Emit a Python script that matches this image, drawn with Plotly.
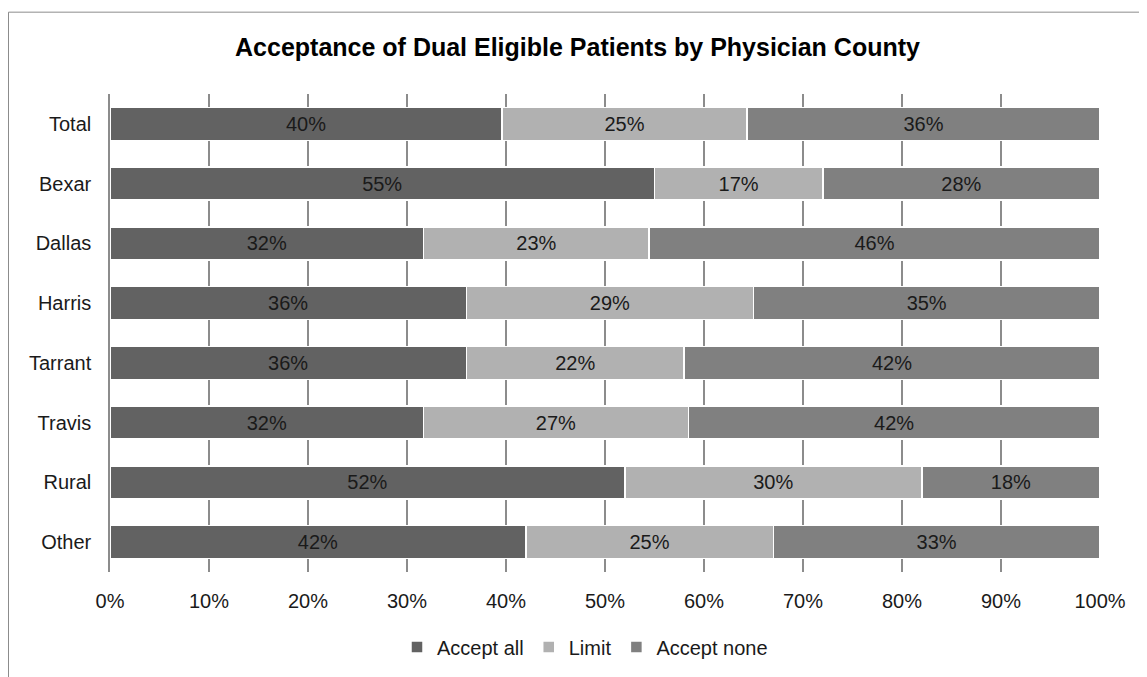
import plotly.graph_objects as go

categories = ["Total", "Bexar", "Dallas", "Harris", "Tarrant", "Travis", "Rural", "Other"]
accept_all = [40, 55, 32, 36, 36, 32, 52, 42]
limit = [25, 17, 23, 29, 22, 27, 30, 25]
accept_none = [36, 28, 46, 35, 42, 42, 18, 33]
series_names = ["Accept all", "Limit", "Accept none"]
series_values = [accept_all, limit, accept_none]
colors = ["#626262", "#b1b1b1", "#808080"]
x_tick_vals = [0, 10, 20, 30, 40, 50, 60, 70, 80, 90, 100]
x_tick_text = [f"{v}%" for v in x_tick_vals]
title_text = "Acceptance of Dual Eligible Patients by Physician County"

FONT = "Liberation Sans, Arial, sans-serif"
OFF = 8  # page body margin
W, H = 1147 - OFF, 677 - OFF
ML, MR, MT, MB = 110 - OFF, 47, 94 - OFF, 104

fig = go.Figure()
for name, vals, col in zip(series_names, series_values, colors):
    fig.add_trace(go.Bar(
        y=categories, x=vals, name=name, orientation="h",
        marker=dict(color=col, line=dict(color="white", width=1.5)),
        text=[f"{v}%" for v in vals],
        textposition="inside", insidetextanchor="middle", textangle=0,
        insidetextfont=dict(family=FONT, size=20, color="#1a1a1a"),
        width=0.55,
        hoverinfo="skip",
    ))

pw = W - ML - MR
ph = H - MT - MB
def px2paper_x(px):
    return (px - OFF - ML) / pw
def px2paper_y(py):
    return (H - MB - (py - OFF)) / ph

fig.update_layout(
    width=W, height=H,
    margin=dict(l=ML, r=MR, t=MT, b=MB),
    barmode="stack", barnorm="percent",
    plot_bgcolor="white", paper_bgcolor="white",
    font=dict(family=FONT, size=20, color="#1a1a1a"),
    title=dict(text=f"<b>{title_text}</b>", x=0.5, xanchor="center",
               y=1 - (47 - OFF) / H, yanchor="middle",
               font=dict(family=FONT, size=25, color="#000000")),
    xaxis=dict(range=[0, 100], tickvals=x_tick_vals, ticktext=x_tick_text,
               showgrid=True, gridcolor="#8c8c8c", gridwidth=1.5,
               zeroline=False, showline=False, ticks="", ticklabelstandoff=15,
               tickfont=dict(family=FONT, size=20, color="#1a1a1a"), fixedrange=True),
    yaxis=dict(autorange="reversed", categoryorder="array", categoryarray=categories,
               showgrid=False, zeroline=False, showline=True, linecolor="#8c8c8c", linewidth=1.5,
               ticks="", ticklabelstandoff=13,
               tickfont=dict(family=FONT, size=20, color="#1a1a1a"), fixedrange=True),
    legend=dict(orientation="h", x=px2paper_x(585), xanchor="center", y=px2paper_y(647), yanchor="middle",
                font=dict(family=FONT, size=20, color="#1a1a1a"), traceorder="normal",
                itemclick=False, itemdoubleclick=False),
    shapes=[dict(type="rect", xref="paper", yref="paper",
                 x0=px2paper_x(OFF + 0.5), x1=px2paper_x(1170),
                 y0=px2paper_y(700), y1=px2paper_y(12),
                 line=dict(color="#8c8c8c", width=1), fillcolor="rgba(0,0,0,0)", layer="below")],
)

fig.write_html("out.html", config={"displayModeBar": False})
